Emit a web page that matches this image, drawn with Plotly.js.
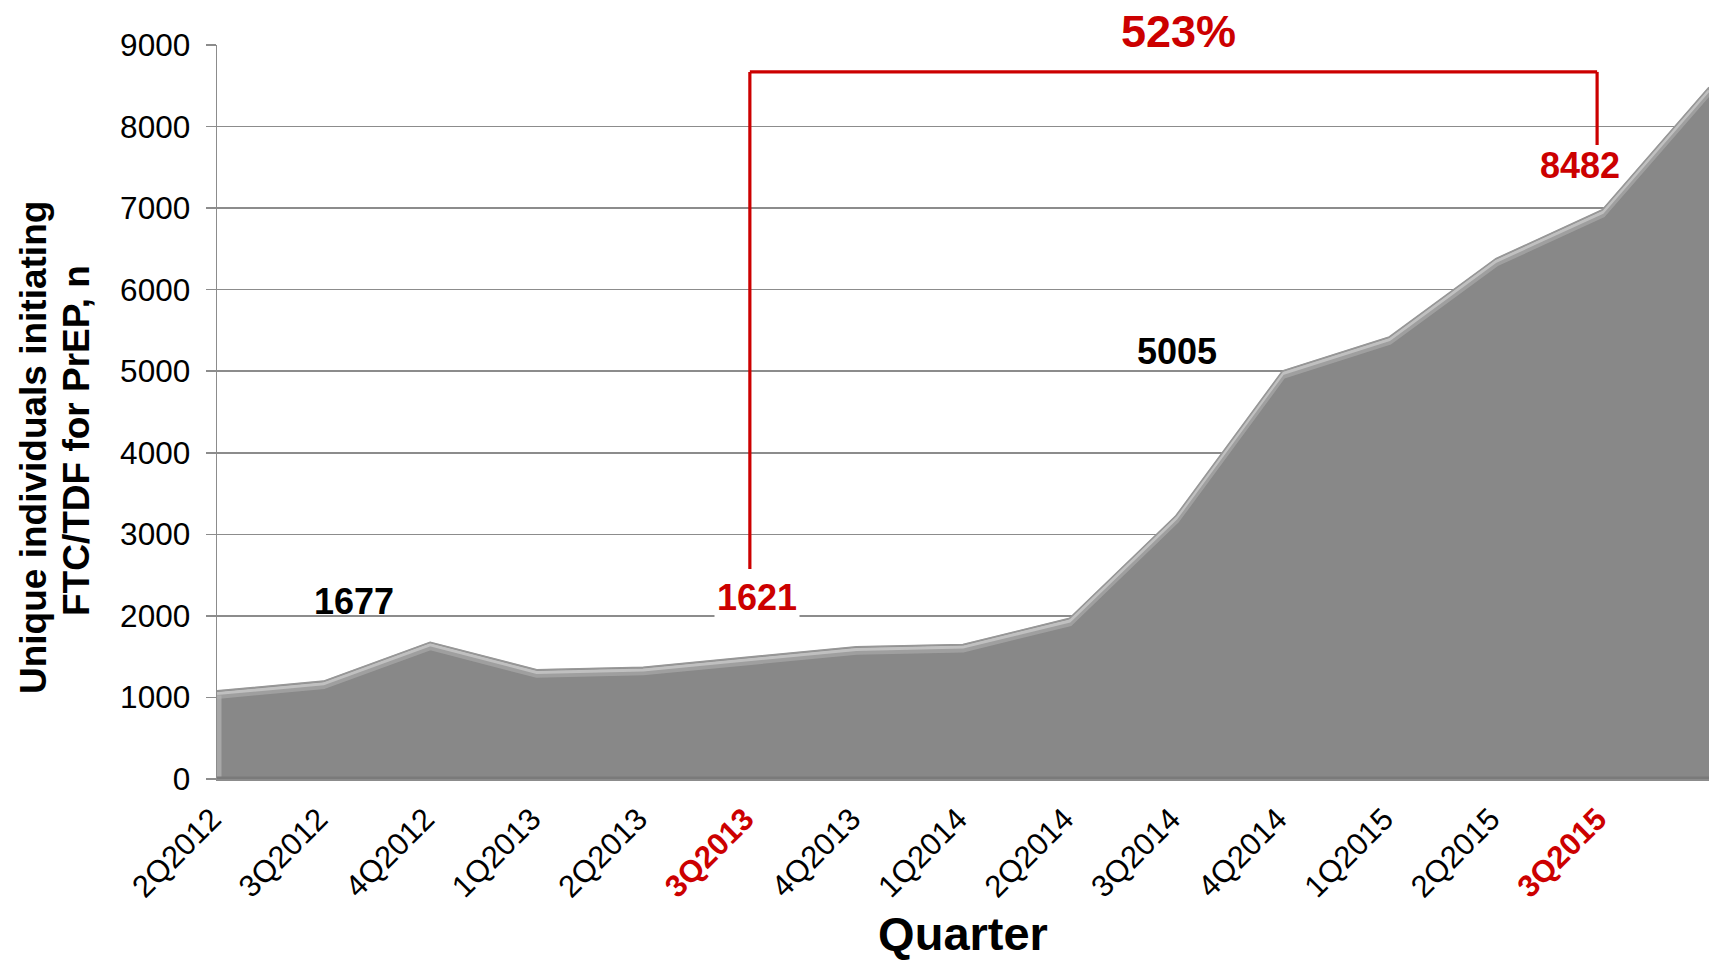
<!DOCTYPE html>
<html>
<head>
<meta charset="utf-8">
<script src="https://cdn.plot.ly/plotly-3.0.1.min.js"></script>
<style>
  html, body { margin: 0; padding: 0; background: #ffffff; }
  #chart { width: 1709px; height: 960px; }
</style>
</head>
<body>
<div id="chart"></div>
<script>
// Quarterly count of unique individuals starting FTC/TDF for PrEP
const quarters = ['2Q2012', '3Q2012', '4Q2012', '1Q2013', '2Q2013', '3Q2013', '4Q2013',
                  '1Q2014', '2Q2014', '3Q2014', '4Q2014', '1Q2015', '2Q2015', '3Q2015'];
const highlightedQuarters = ['3Q2013', '3Q2015'];
const individuals = [1080, 1200, 1677, 1340, 1370, 1500, 1621, 1650, 1970, 3230, 5005, 5420, 6380, 6980, 8482];
const yTickValues = [0, 1000, 2000, 3000, 4000, 5000, 6000, 7000, 8000, 9000];

// indices of the series points called out with their values
const calloutIndex = { first: 2, start: 6, mid: 10, end: 14 };

const RED = '#cc0000';
const GRID = '#8c8c8c';
const FONT = 'Liberation Sans, Arial, sans-serif';

const xs = individuals.map((_, i) => i);
const tickText = quarters.map(q => highlightedQuarters.includes(q)
  ? '<b><span style="color:' + RED + '">' + q + '</span></b>' : q);

// depth of the bevel highlight below the top edge, in data units
const bevel = 55;

const traces = [
  {
    x: xs, y: individuals, type: 'scatter', mode: 'lines',
    fill: 'tozeroy', fillcolor: '#888888',
    line: { color: '#8e8e8e', width: 0.5 }, hoverinfo: 'skip', showlegend: false
  },
  {
    x: xs, y: individuals.map(v => v - bevel), type: 'scatter', mode: 'lines',
    line: { color: 'rgba(175,175,175,0.6)', width: 7 }, hoverinfo: 'skip', showlegend: false
  },
  {
    x: xs, y: individuals.map(v => v - bevel * 0.6), type: 'scatter', mode: 'lines',
    line: { color: 'rgba(200,200,200,0.8)', width: 3 }, hoverinfo: 'skip', showlegend: false
  },
  {
    x: xs, y: individuals, type: 'scatter', mode: 'lines',
    line: { color: '#979797', width: 1.6 }, hoverinfo: 'skip', showlegend: false
  }
];

const growth = Math.round(individuals[calloutIndex.end] / individuals[calloutIndex.start] * 100) + '%';

// bracket spanning the growth period
const bracketTop = 8670;
const bracketLeft = { x: 5, bottom: 2575 };
const bracketRight = { x: 12.95, bottom: 7774 };
const bracketLine = { color: RED, width: 3.2 };

const shapes = [
  // left and bottom bevel of the filled area
  { type: 'line', xref: 'x', yref: 'y', x0: 0, x1: 0, y0: 0, y1: individuals[0] - bevel,
    line: { color: 'rgba(175,175,175,0.8)', width: 9 }, layer: 'above' },
  { type: 'line', xref: 'x', yref: 'y', x0: 0, x1: 14, y0: 0, y1: 0,
    line: { color: '#7a7a7a', width: 5 }, layer: 'above' },
  { type: 'line', xref: 'x', yref: 'y', x0: bracketLeft.x, x1: bracketRight.x, y0: bracketTop, y1: bracketTop, line: bracketLine },
  { type: 'line', xref: 'x', yref: 'y', x0: bracketLeft.x, x1: bracketLeft.x, y0: bracketLeft.bottom, y1: bracketTop, line: bracketLine },
  { type: 'line', xref: 'x', yref: 'y', x0: bracketRight.x, x1: bracketRight.x, y0: bracketRight.bottom, y1: bracketTop, line: bracketLine }
];

const labelFont = (color, size) => ({ family: FONT, size: size, color: color });

const annotations = [
  { x: 1.29, y: 2174, text: '<b>' + individuals[calloutIndex.first] + '</b>', font: labelFont('#000000', 36) },
  { x: 5.07, y: 2220, text: '<b>' + individuals[calloutIndex.start] + '</b>', font: labelFont(RED, 36),
    bgcolor: '#ffffff', borderpad: 2 },
  { x: 9.01, y: 5248, text: '<b>' + individuals[calloutIndex.mid] + '</b>', font: labelFont('#000000', 36) },
  { x: 12.79, y: 7517, text: '<b>' + individuals[calloutIndex.end] + '</b>', font: labelFont(RED, 36) },
  { x: 9.02, yref: 'paper', y: (779 - 32) / 734, text: '<b>' + growth + '</b>', font: labelFont(RED, 45) },
  // y-axis title, two lines
  { xref: 'paper', yref: 'paper', x: (33 - 217) / 1492, y: (779 - 448) / 734, textangle: -90,
    text: '<b>Unique individuals initiating</b>', font: labelFont('#000000', 37) },
  { xref: 'paper', yref: 'paper', x: (76 - 217) / 1492, y: (779 - 441) / 734, textangle: -90,
    text: '<b>FTC/TDF for PrEP, n</b>', font: labelFont('#000000', 37) }
].map(a => Object.assign({ xref: 'x', yref: 'y', showarrow: false, xanchor: 'center', yanchor: 'middle' }, a));

const layout = {
  width: 1709, height: 960,
  margin: { l: 217, r: 0, t: 45, b: 181 },
  paper_bgcolor: '#ffffff', plot_bgcolor: '#ffffff',
  font: { family: FONT, color: '#000000' },
  showlegend: false,
  xaxis: {
    range: [0, 14], tickmode: 'array', tickvals: quarters.map((_, i) => i), ticktext: tickText,
    tickangle: -45, tickfont: { family: FONT, size: 31, color: '#000000' },
    ticklabelstandoff: 8, ticklabelshift: -5,
    ticks: '', showgrid: false, zeroline: false,
    showline: true, linecolor: GRID, linewidth: 1.5,
    title: { text: '<b>Quarter</b>', font: { family: FONT, size: 47, color: '#000000' }, standoff: 24 },
    automargin: false, fixedrange: true
  },
  yaxis: {
    range: [0, 9000], tickmode: 'array', tickvals: yTickValues,
    tickfont: { family: FONT, size: 31.5, color: '#000000' },
    ticks: 'outside', ticklen: 10, tickcolor: GRID, tickwidth: 1.5,
    ticklabelstandoff: 9,
    showgrid: true, gridcolor: GRID, gridwidth: 1.5,
    zeroline: false, showline: true, linecolor: GRID, linewidth: 1.5,
    automargin: false, fixedrange: true
  },
  shapes: shapes,
  annotations: annotations
};

Plotly.newPlot('chart', traces, layout, { displayModeBar: false, staticPlot: true });
</script>
</body>
</html>
